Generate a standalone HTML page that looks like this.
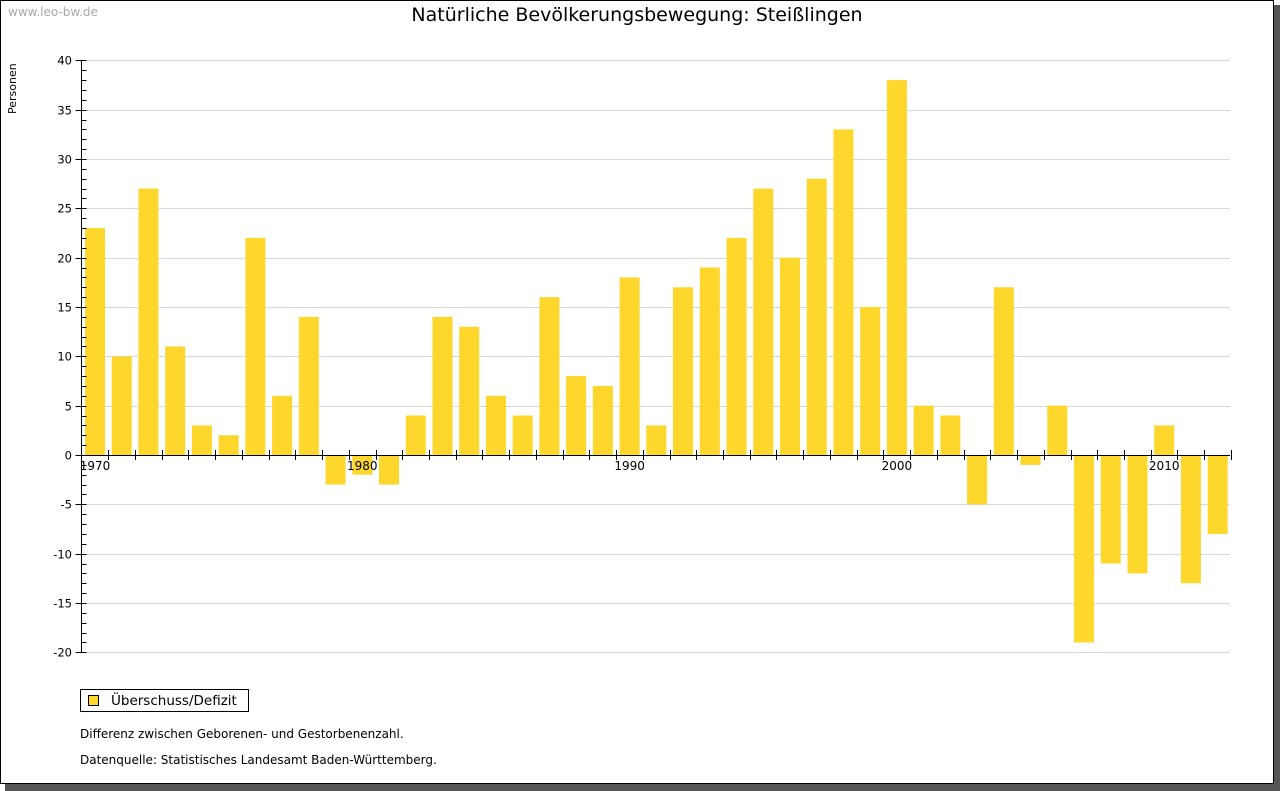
<!DOCTYPE html>
<html><head><meta charset="utf-8"><style>
body{margin:0;background:#fff;}
#wrap{position:relative;width:1280px;height:791px;overflow:hidden;font-family:"DejaVu Sans","Liberation Sans",sans-serif;}
</style></head><body>
<div id="wrap">
<svg id="chart" width="1280" height="791" font-family="DejaVu Sans, Liberation Sans, sans-serif">
<rect x="5" y="5" width="1275" height="786" fill="#555"/>
<rect x="0.5" y="0.5" width="1273" height="783" fill="#fff" stroke="#000"/>
<text x="8" y="16" font-size="12" fill="#aaa">www.leo-bw.de</text>
<text x="637" y="21" font-size="19" text-anchor="middle" fill="#000">Natürliche Bevölkerungsbewegung: Steißlingen</text>
<text transform="translate(16,114) rotate(-90)" font-size="11">Personen</text>
<g id="grid"></g><g id="bars"></g><g id="axes"></g>
<rect x="80.5" y="689.5" width="168" height="22" fill="#fff" stroke="#000"/>
<rect x="88.5" y="695.5" width="10" height="10" fill="#FDD72C" stroke="#000"/>
<text x="111" y="705" font-size="13.5">Überschuss/Defizit</text>
<text x="80" y="738" font-size="12">Differenz zwischen Geborenen- und Gestorbenenzahl.</text>
<text x="80" y="764" font-size="12">Datenquelle: Statistisches Landesamt Baden-Württemberg.</text>
</svg></div>
<script>
const years=[1970,1971,1972,1973,1974,1975,1976,1977,1978,1979,1980,1981,1982,1983,1984,1985,1986,1987,1988,1989,1990,1991,1992,1993,1994,1995,1996,1997,1998,1999,2000,2001,2002,2003,2004,2005,2006,2007,2008,2009,2010,2011,2012];
const values=[23,10,27,11,3,2,22,6,14,-3,-2,-3,4,14,13,6,4,16,8,7,18,3,17,19,22,27,20,28,33,15,38,5,4,-5,17,-1,5,-19,-11,-12,3,-13,-8];
const yTicks=[40,35,30,25,20,15,10,5,0,-5,-10,-15,-20];
const xLabels=[1970,1980,1990,2000,2010];
const NS='http://www.w3.org/2000/svg';
const X0=81.5,STEP=26.73,YTOP=60,YZ=455,PU=(652-60)/60;
function y(v){return YZ-v*PU;}
function xc(yr){return X0+13.5+(yr-1970)*STEP;}
function mk(tag,attrs,parent){const e=document.createElementNS(NS,tag);for(const k in attrs)e.setAttribute(k,attrs[k]);document.getElementById(parent).appendChild(e);return e;}
yTicks.forEach(t=>{
 const yy=Math.round(y(t))+0.5;
 const g=mk('line',{x1:X0,x2:1230,y1:yy,y2:yy,stroke:'#d8d8d8'},'grid');
 
 
 const tk=mk('line',{x1:X0-6,x2:X0+5,y1:yy,y2:yy,stroke:'#000'},'axes');
 
 
 const lb=mk('text',{x:72,y:yy+4,'font-size':11.5,'text-anchor':'end'},'axes');
 lb.textContent=t;
 
 
});
for(let v=-20;v<=40;v++){ if(v%5===0)continue; const yy=Math.round(y(v))+0.5;
 const m=mk('line',{x1:X0,x2:X0+5,y1:yy,y2:yy,stroke:'#000'},'axes');
 
 }
years.forEach((yr,i)=>{
 const v=values[i];const top=Math.min(y(v),YZ),h=Math.abs(y(v)-YZ);
 const b=mk('rect',{x:xc(yr)-10,y:top,width:20,height:h,fill:'#FDD72C'},'bars');
 
 
 const tx=Math.round(X0+(i+1)*STEP)+0.5;
 const t=mk('line',{x1:tx,x2:tx,y1:YZ-5,y2:YZ+5,stroke:'#000'},'axes');
 
 
});
xLabels.forEach(l=>{const lb=mk('text',{x:xc(l),y:470,'font-size':12,'text-anchor':'middle'},'axes');lb.textContent=l;
 
 });
const ya=mk('line',{x1:X0,x2:X0,y1:YTOP,y2:652,stroke:'#000'},'axes');


const xa=mk('line',{x1:X0,x2:1230,y1:YZ+0.5,y2:YZ+0.5,stroke:'#000'},'axes');


</script>
</body></html>
